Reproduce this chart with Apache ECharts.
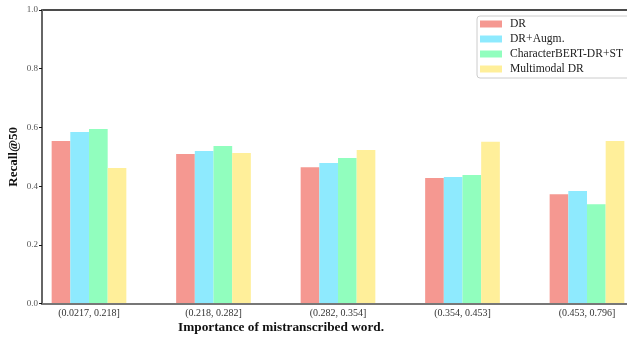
<!DOCTYPE html>
<html><head><meta charset="utf-8">
<script src="https://cdn.jsdelivr.net/npm/echarts@6/dist/echarts.min.js"></script>
<style>html,body{margin:0;padding:0;background:#fff}#c{width:627px;height:337px}</style>
</head><body><div id="c"></div>
<script>
const categories = ['(0.0217, 0.218]', '(0.218, 0.282]', '(0.282, 0.354]', '(0.354, 0.453]', '(0.453, 0.796]'];
const seriesNames = ['DR', 'DR+Augm.', 'CharacterBERT-DR+ST', 'Multimodal DR'];
const dr = [0.554, 0.510, 0.465, 0.428, 0.373];
const drAugm = [0.585, 0.520, 0.479, 0.431, 0.384];
const charBert = [0.595, 0.537, 0.496, 0.438, 0.339];
const multimodal = [0.462, 0.513, 0.523, 0.551, 0.554];
const yTicks = [0, 0.2, 0.4, 0.6, 0.8, 1.0];
const colors = ['#F59891', '#8EEAFE', '#91FEBE', '#FFEF9A'];
const values = [dr, drAugm, charBert, multimodal];
const serif = 'Liberation Serif, DejaVu Serif, serif';

const chart = echarts.init(document.getElementById('c'), null, {renderer: 'canvas'});
chart.setOption({
  animation: false,
  color: colors,
  title: {
    text: 'Importance of mistranscribed word.',
    left: 178, top: 321,
    padding: 0,
    textStyle: {fontFamily: serif, fontSize: 13.3, fontWeight: 'bold', color: '#111'}
  },
  legend: {
    orient: 'vertical', left: 477, top: 16,
    data: seriesNames,
    icon: 'rect', itemWidth: 22, itemHeight: 7, itemGap: 3,
    padding: [2, 14, 3, 3],
    borderColor: '#ccc', borderWidth: 1, borderRadius: 3,
    backgroundColor: '#fff',
    textStyle: {fontFamily: serif, fontSize: 11.6, color: '#222', lineHeight: 12, padding: [0, 0, 0, 3]}
  },
  grid: [
    {left: 26.75, width: 622.5, top: 10, bottom: 33.3, outerBoundsMode: 'none', containLabel: false},
    {left: 42, width: 592, top: 10, bottom: 33.3, outerBoundsMode: 'none', containLabel: false,
     show: true, borderColor: '#111', borderWidth: 1.5}
  ],
  xAxis: [
    {type: 'category', gridIndex: 0, data: categories,
     axisLine: {show: false},
     axisTick: {alignWithLabel: true, length: 3, lineStyle: {color: '#000'}},
     axisLabel: {fontFamily: serif, fontSize: 10, color: '#333', margin: 5}},
    {type: 'value', gridIndex: 1, min: 0, max: 1, z: 5,
     axisLine: {show: true, lineStyle: {color: '#777', width: 2}},
     axisTick: {show: false}, axisLabel: {show: false}, splitLine: {show: false}}
  ],
  yAxis: [
    {type: 'value', gridIndex: 0, min: 0, max: 1, show: false, splitLine: {show: false}},
    {type: 'value', gridIndex: 1, min: 0, max: 1, interval: 0.2, z: 5,
     name: 'Recall@50', nameLocation: 'middle', nameGap: 22, nameRotate: 90,
     nameMoveOverlap: false,
     nameTextStyle: {fontFamily: serif, fontSize: 13, fontWeight: 'bold', color: '#111'},
     axisLine: {show: true, lineStyle: {color: '#666', width: 2}},
     axisTick: {show: true, length: 3, lineStyle: {color: '#111'}},
     axisLabel: {fontFamily: serif, fontSize: 9, color: '#555', margin: 4,
       formatter: v => yTicks.some(t => Math.abs(t - v) < 1e-9) ? v.toFixed(1) : ''},
     splitLine: {show: false}}
  ],
  series: seriesNames.map((n, i) => ({
    name: n, type: 'bar', xAxisIndex: 0, yAxisIndex: 0,
    data: values[i], barWidth: '15%', barGap: '0%',
    itemStyle: {color: colors[i]}
  }))
});
</script></body></html>
